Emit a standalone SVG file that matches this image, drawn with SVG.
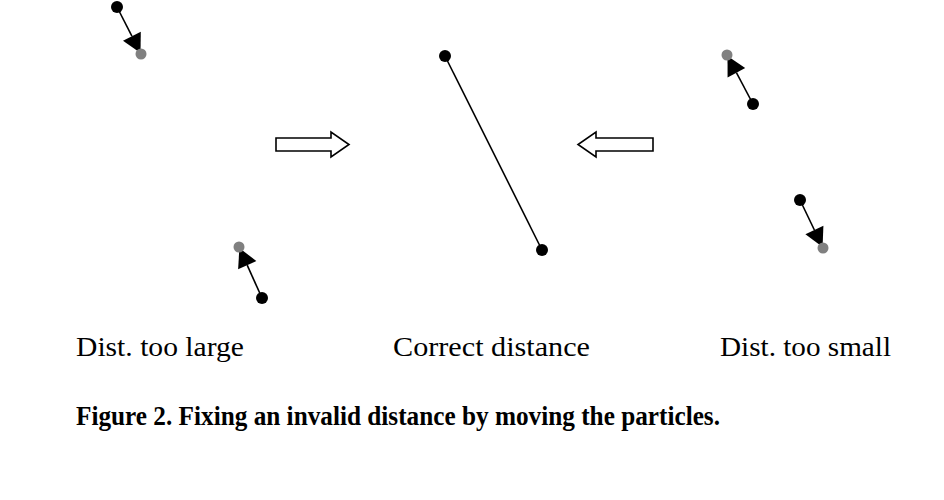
<svg xmlns="http://www.w3.org/2000/svg" width="944" height="500" viewBox="0 0 944 500">
<style>
.b{fill:#000}
.g{fill:#808080}
.ln{stroke:#000;stroke-width:1.6;fill:none}
.blk{fill:#fff;stroke:#000;stroke-width:1.6}
.lbl{font-family:"Liberation Serif","Times New Roman",serif;font-size:28px;fill:#000}
.cap{font-family:"Liberation Serif","Times New Roman",serif;font-size:27px;font-weight:bold;fill:#000}
</style>
<rect width="944" height="500" fill="#fff"/>
<g id="connectors">
<line class="ln" x1="117" y1="7" x2="131.9" y2="36.2"/>
<path d="M140.5,53.1 L123,40.7 L140.8,31.7 Z" class="b"/>
<line class="ln" x1="262" y1="298" x2="247.2" y2="265.2"/>
<path d="M239.4,247.9 L256.3,261.1 L238.1,269.3 Z" class="b"/>
<line class="ln" x1="445" y1="56" x2="542" y2="250"/>
<line class="ln" x1="753" y1="104" x2="736.4" y2="72.7"/>
<path d="M727.5,55.9 L745.2,68 L727.6,77.4 Z" class="b"/>
<line class="ln" x1="800" y1="200" x2="814.4" y2="230"/>
<path d="M822.6,247.1 L805.4,234.3 L823.4,225.7 Z" class="b"/>
</g>
<g id="left-top">
<circle cx="141" cy="54" r="5.5" class="g"/>
<circle cx="117" cy="7" r="6" class="b"/>
</g>
<g id="left-bottom">
<circle cx="239" cy="247" r="5.5" class="g"/>
<circle cx="262" cy="298" r="6" class="b"/>
</g>
<g id="center">
<circle cx="445" cy="56" r="6" class="b"/>
<circle cx="542" cy="250" r="6" class="b"/>
</g>
<g id="right-top">
<circle cx="727" cy="55" r="5.5" class="g"/>
<circle cx="753" cy="104" r="6" class="b"/>
</g>
<g id="right-bottom">
<circle cx="823" cy="248" r="5.5" class="g"/>
<circle cx="800" cy="200" r="6" class="b"/>
</g>
<g id="arrow-right">
<path class="blk" d="M276,138 L331,138 L331,132 L349,144.5 L331,157 L331,151 L276,151 Z"/>
</g>
<g id="arrow-left">
<path class="blk" d="M653,138 L596,138 L596,132 L578,144.5 L596,157 L596,151 L653,151 Z"/>
</g>
<g id="labels">
<text class="lbl" x="76" y="356" textLength="168" lengthAdjust="spacingAndGlyphs">Dist. too large</text>
<text class="lbl" x="393" y="356" textLength="197" lengthAdjust="spacingAndGlyphs">Correct distance</text>
<text class="lbl" x="720" y="356" textLength="171" lengthAdjust="spacingAndGlyphs">Dist. too small</text>
<text class="cap" x="76" y="425" textLength="644" lengthAdjust="spacingAndGlyphs">Figure 2. Fixing an invalid distance by moving the particles.</text>
</g>
</svg>
